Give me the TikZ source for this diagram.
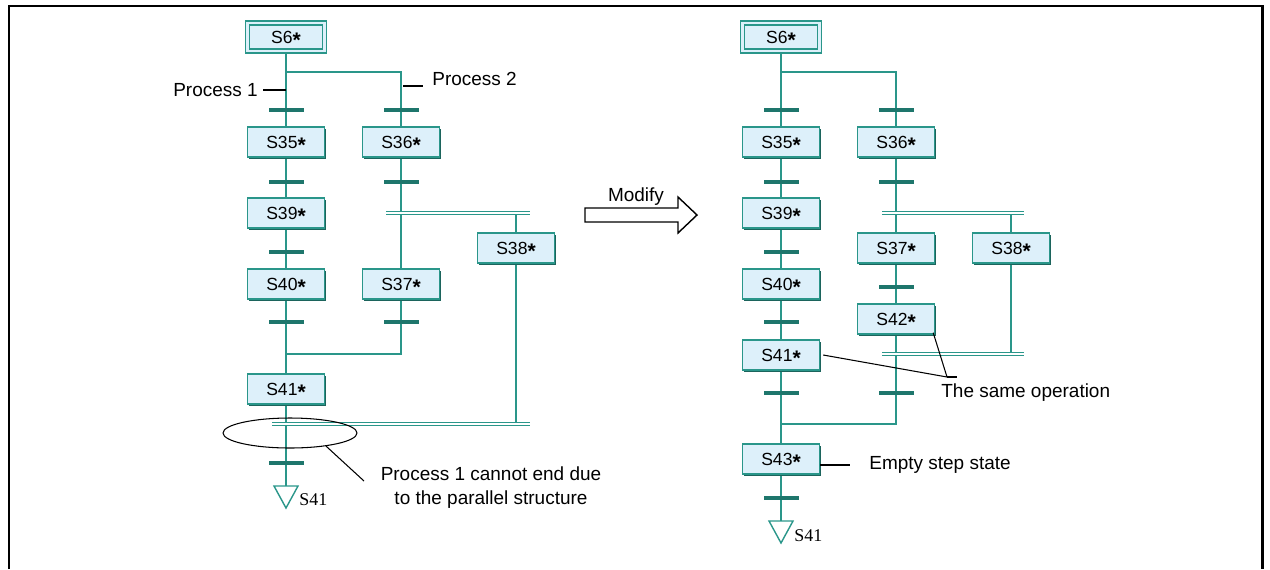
\documentclass[tikz,border=0pt]{standalone}
\usepackage{fontspec}
\setmainfont{Liberation Sans}
\newfontfamily\serifT{Liberation Serif}
\usetikzlibrary{shadows,shapes.geometric}
\definecolor{lineC}{RGB}{42,150,138}
\definecolor{barC}{RGB}{30,118,108}
\definecolor{boxF}{RGB}{221,240,250}
\definecolor{shadC}{RGB}{28,100,92}
\newcommand{\stp}{\raisebox{-0.45ex}{\fontsize{12}{12}\selectfont\bfseries *}}
\begin{document}
\begin{tikzpicture}[x=0.02cm,y=-0.02cm,
 stepbox/.style={draw=lineC, fill=boxF, line width=0.8pt, minimum width=1.54cm, minimum height=0.6cm, inner sep=0pt,
   font=\fontsize{10}{11}\selectfont, text height=7.2pt, text depth=0pt,
   drop shadow={shadow xshift=0.9pt, shadow yshift=-0.9pt, fill=shadC, opacity=1}},
 initbox/.style={stepbox, double=boxF, double distance=1.3pt, minimum height=0.56cm},
 trbar/.style={fill=barC, minimum width=0.7cm, minimum height=0.085cm, inner sep=0pt},
 flow/.style={draw=lineC, line width=0.9pt},
 parl/.style={draw=lineC, line width=0.6pt, double=white, double distance=1.5pt},
 lbl/.style={font=\fontsize{10.8}{13.6}\selectfont, inner sep=0pt},
 slbl/.style={font=\serifT\fontsize{10.2}{12}\selectfont, inner sep=0pt, anchor=west},
 lead/.style={draw=black, line width=0.6pt},
 tri/.style={draw=lineC, line width=0.8pt}
]
\useasboundingbox (0,0) rectangle (1270,569);
\draw[line width=1.7pt] (9,569) -- (9,6) -- (1262,6) -- (1262,569);

% ================= LEFT =================
\coordinate (LbrR) at (401,72);
\coordinate (LpA1) at (386,213); \coordinate (LpA2) at (530,213);
\coordinate (LmR) at (401,354);
\coordinate (LpB1) at (272,424); \coordinate (LpB2) at (530,424);
\coordinate (Lend) at (286,486);

\draw[flow] (286,37) -- (Lend);
\draw[flow] (286,72) -- (LbrR) -- (401,284);
\draw[flow] (401,284) -- (LmR) -- (286,354);
\draw[flow] (516,213) -- (516,424);
\draw[parl] (LpA1) -- (LpA2);
\draw[parl] (LpB1) -- (LpB2);

\node[initbox] (LS6) at (286,37) {S6\stp};
\node[stepbox] (LS35) at (286,142) {S35\stp};
\node[stepbox] (LS36) at (401,142) {S36\stp};
\node[stepbox] (LS39) at (286,213) {S39\stp};
\node[stepbox] (LS38) at (516,248) {S38\stp};
\node[stepbox] (LS40) at (286,284) {S40\stp};
\node[stepbox] (LS37) at (401,284) {S37\stp};
\node[stepbox] (LS41) at (286,389) {S41\stp};

\foreach \yy in {110,182,252,322,463} \node[trbar] (LtA\yy) at (286,\yy) {};
\foreach \yy in {110,182,322} \node[trbar] (LtB\yy) at (401,\yy) {};

\draw[tri] (Lend) ++(-12,0) -- ++(24,0) -- ++(-12,22) -- cycle;
\node[slbl] (Lgo) at (299,500) {S41};

\node[lbl, anchor=east] (P1) at (258,90) {Process 1};
\draw[lead] (263,90) -- (LS35.north |- P1);
\node[lbl, anchor=west] (P2) at (432,79) {Process 2};
\coordinate (P2a) at (403,86);
\draw[lead] (P2a) -- ++(20,0);

\node[draw=black, line width=0.6pt, ellipse, minimum width=2.68cm, minimum height=0.6cm, inner sep=0pt] (Lell) at (290,433) {};
\node[lbl, align=center] (Lnote) at (491,488) {Process 1 cannot end due\\to the parallel structure};
\coordinate (LnoteA) at (364,481);
\draw[lead] (Lell.-20) -- (LnoteA);

% ================= ARROW =================
\draw[line width=0.8pt, fill=white] (585,208) -- (678,208) -- (678,197) -- (697,215) -- (678,233) -- (678,222) -- (585,222) -- cycle;
\node[lbl] (mod) at (636,197) {Modify};

% ================= RIGHT =================
\coordinate (RbrR) at (896,72);
\coordinate (RpA1) at (882,213); \coordinate (RpA2) at (1024,213);
\coordinate (RpB1) at (882,354); \coordinate (RpB2) at (1024,354);
\coordinate (RmR) at (896,424);
\coordinate (Rend) at (781,521);

\draw[flow] (781,37) -- (Rend);
\draw[flow] (781,72) -- (RbrR) -- (RmR) -- (781,424);
\draw[flow] (1011,213) -- (1011,354);
\draw[parl] (RpA1) -- (RpA2);
\draw[parl] (RpB1) -- (RpB2);

\node[initbox] (RS6) at (781,37) {S6\stp};
\node[stepbox] (RS35) at (781,142) {S35\stp};
\node[stepbox] (RS36) at (896,142) {S36\stp};
\node[stepbox] (RS39) at (781,213) {S39\stp};
\node[stepbox] (RS37) at (896,248) {S37\stp};
\node[stepbox] (RS38) at (1011,248) {S38\stp};
\node[stepbox] (RS40) at (781,284) {S40\stp};
\node[stepbox] (RS42) at (896,319) {S42\stp};
\node[stepbox] (RS41) at (781,355) {S41\stp};
\node[stepbox] (RS43) at (781,459) {S43\stp};

\foreach \yy in {110,182,252,322,393,498} \node[trbar] (RtA\yy) at (781,\yy) {};
\foreach \yy in {110,182,287,393} \node[trbar] (RtB\yy) at (896,\yy) {};

\draw[tri] (Rend) ++(-12,0) -- ++(24,0) -- ++(-12,22) -- cycle;
\node[slbl] (Rgo) at (794,536) {S41};

\node[lbl, anchor=west] (same) at (941,393) {The same operation};
\coordinate (sameA) at (947,377);
\draw[lead] (RS41.east) ++(3,0) -- (sameA);
\draw[lead] (RS42.south east) ++(-2,-2) -- (sameA);
\draw[lead] (sameA) -- ++(10,0);

\node[lbl, anchor=west] (empty) at (869,465) {Empty step state};
\draw[lead] (RS43.east |- empty) -- ++(30,0);

\end{tikzpicture}
\end{document}
